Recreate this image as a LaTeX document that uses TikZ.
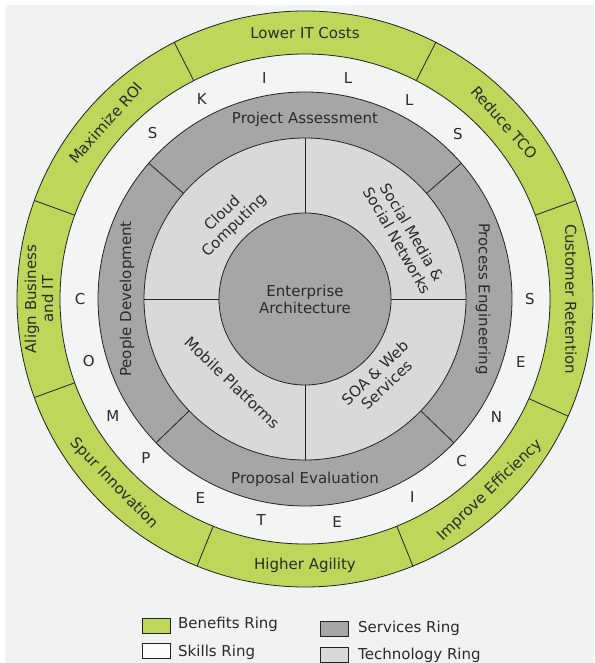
\documentclass[tikz,border=0pt]{standalone}
\usepackage{fontspec}
\setmainfont{DejaVu Sans}
\usetikzlibrary{calc}
\definecolor{bg}{HTML}{F2F2F2}
\definecolor{benefit}{HTML}{BED65A}
\definecolor{skill}{HTML}{F4F4F4}
\definecolor{service}{HTML}{A6A6A6}
\definecolor{tech}{HTML}{D9D9D9}
\definecolor{ink}{HTML}{2A2A2A}
\definecolor{edge}{HTML}{222222}
\begin{document}
\begin{tikzpicture}[x=1pt,y=1pt,
  lbl/.style={font=\fontsize{15}{17}\selectfont, text=ink, align=center, inner sep=0pt},
  ringline/.style={draw=edge, line width=0.8pt},
  letter/.style={font=\fontsize{15}{17}\selectfont, text=ink, inner sep=0pt},
  keybox/.style={draw=edge, line width=0.8pt, minimum width=28pt, minimum height=15pt, inner sep=0pt},
  keytext/.style={font=\fontsize{15}{17}\selectfont, text=ink, inner sep=0pt, anchor=west}]
\useasboundingbox (0,0) rectangle (594,663);
\fill[bg] (5,0) rectangle (594,658);
\coordinate (C) at (305,364);
% skills ring
\fill[skill] (C) circle[radius=245pt];
% benefits ring
\fill[benefit, even odd rule] (C) circle[radius=288pt] (C) circle[radius=245pt];
\draw[ringline] (C) circle[radius=288pt] (C) circle[radius=245pt];
\foreach \a in {20,63,117,160,200,248,292,336}
  \draw[ringline] ($(C)+(\a:245)$) -- ($(C)+(\a:288)$);
% services ring
\draw[ringline, fill=service] (C) circle[radius=207pt];
% technology ring
\draw[ringline, fill=tech] (C) circle[radius=161pt];
\foreach \a in {41,139,224,316}
  \draw[ringline] ($(C)+(\a:161)$) -- ($(C)+(\a:207)$);
\foreach \a in {0,90,180,270}
  \draw[ringline] ($(C)+(\a:86)$) -- ($(C)+(\a:161)$);
% core
\draw[ringline, fill=service] (C) circle[radius=86pt];
\node[lbl] (core) at (C) {Enterprise\\Architecture};
% benefits labels
\node[lbl] (b1) at ($(C)+(90:266)$) {Lower IT Costs};
\node[lbl, rotate=-48.5] (b2) at ($(C)+(41.5:266)$) {Reduce TCO};
\node[lbl, rotate=-90] (b3) at ($(C)+(0:266)$) {Customer Retention};
\node[lbl, rotate=44] (b4) at ($(C)+(314:266)$) {Improve Efficiency};
\node[lbl] (b5) at ($(C)+(270:266)$) {Higher Agility};
\node[lbl, rotate=-46] (b6) at ($(C)+(224:266)$) {Spur Innovation};
\node[lbl, rotate=90] (b7) at ($(C)+(180:266)$) {Align Business\\and IT};
\node[lbl, rotate=48.5] (b8) at ($(C)+(138.5:266)$) {Maximize ROI};
% services labels
\node[lbl] (s1) at ($(C)+(90:180)$) {Project Assessment};
\node[lbl, rotate=-90] (s2) at ($(C)+(0:178)$) {Process Engineering};
\node[lbl] (s3) at ($(C)+(270:180)$) {Proposal Evaluation};
\node[lbl, rotate=90] (s4) at ($(C)+(180:178)$) {People Development};
% technology labels
\node[lbl, rotate=44] (t1) at ($(C)+(134:110)$) {Cloud\\Computing};
\node[lbl, rotate=-60] (t2) at ($(C)+(32:118)$) {Social Media \&\\Social Networks};
\node[lbl, rotate=-44] (t3) at ($(C)+(229:111)$) {Mobile Platforms};
\node[lbl, rotate=43.5] (t4) at ($(C)+(313.5:110)$) {SOA \& Web\\Services};
% skills letters
\foreach \a/\l [count=\i] in {132.6/S,117.3/K,100.4/I,79/L,62.4/L,47.2/S,
  180/C,196.1/O,211.3/M,225/P,242.3/E,258.8/T,278.2/E,298.5/I,314.1/C,328.3/N,343.7/E,0/S}
  \node[letter] (k\i) at ($(C)+(\a:225)$) {\l};
% legend
\node[keybox, fill=benefit] (kb1) at (156,37.5) {};
\node[keytext] (kt1) at (178,39) {Benefits Ring};
\node[keybox, fill=white!60!skill] (kb2) at (156,12.5) {};
\node[keytext] (kt2) at (178,11) {Skills Ring};
\node[keybox, fill=service] (kb3) at (334,34.5) {};
\node[keytext] (kt3) at (358,35) {Services Ring};
\node[keybox, fill=tech] (kb4) at (334,8.5) {};
\node[keytext] (kt4) at (358,8) {Technology Ring};
\end{tikzpicture}
\end{document}
